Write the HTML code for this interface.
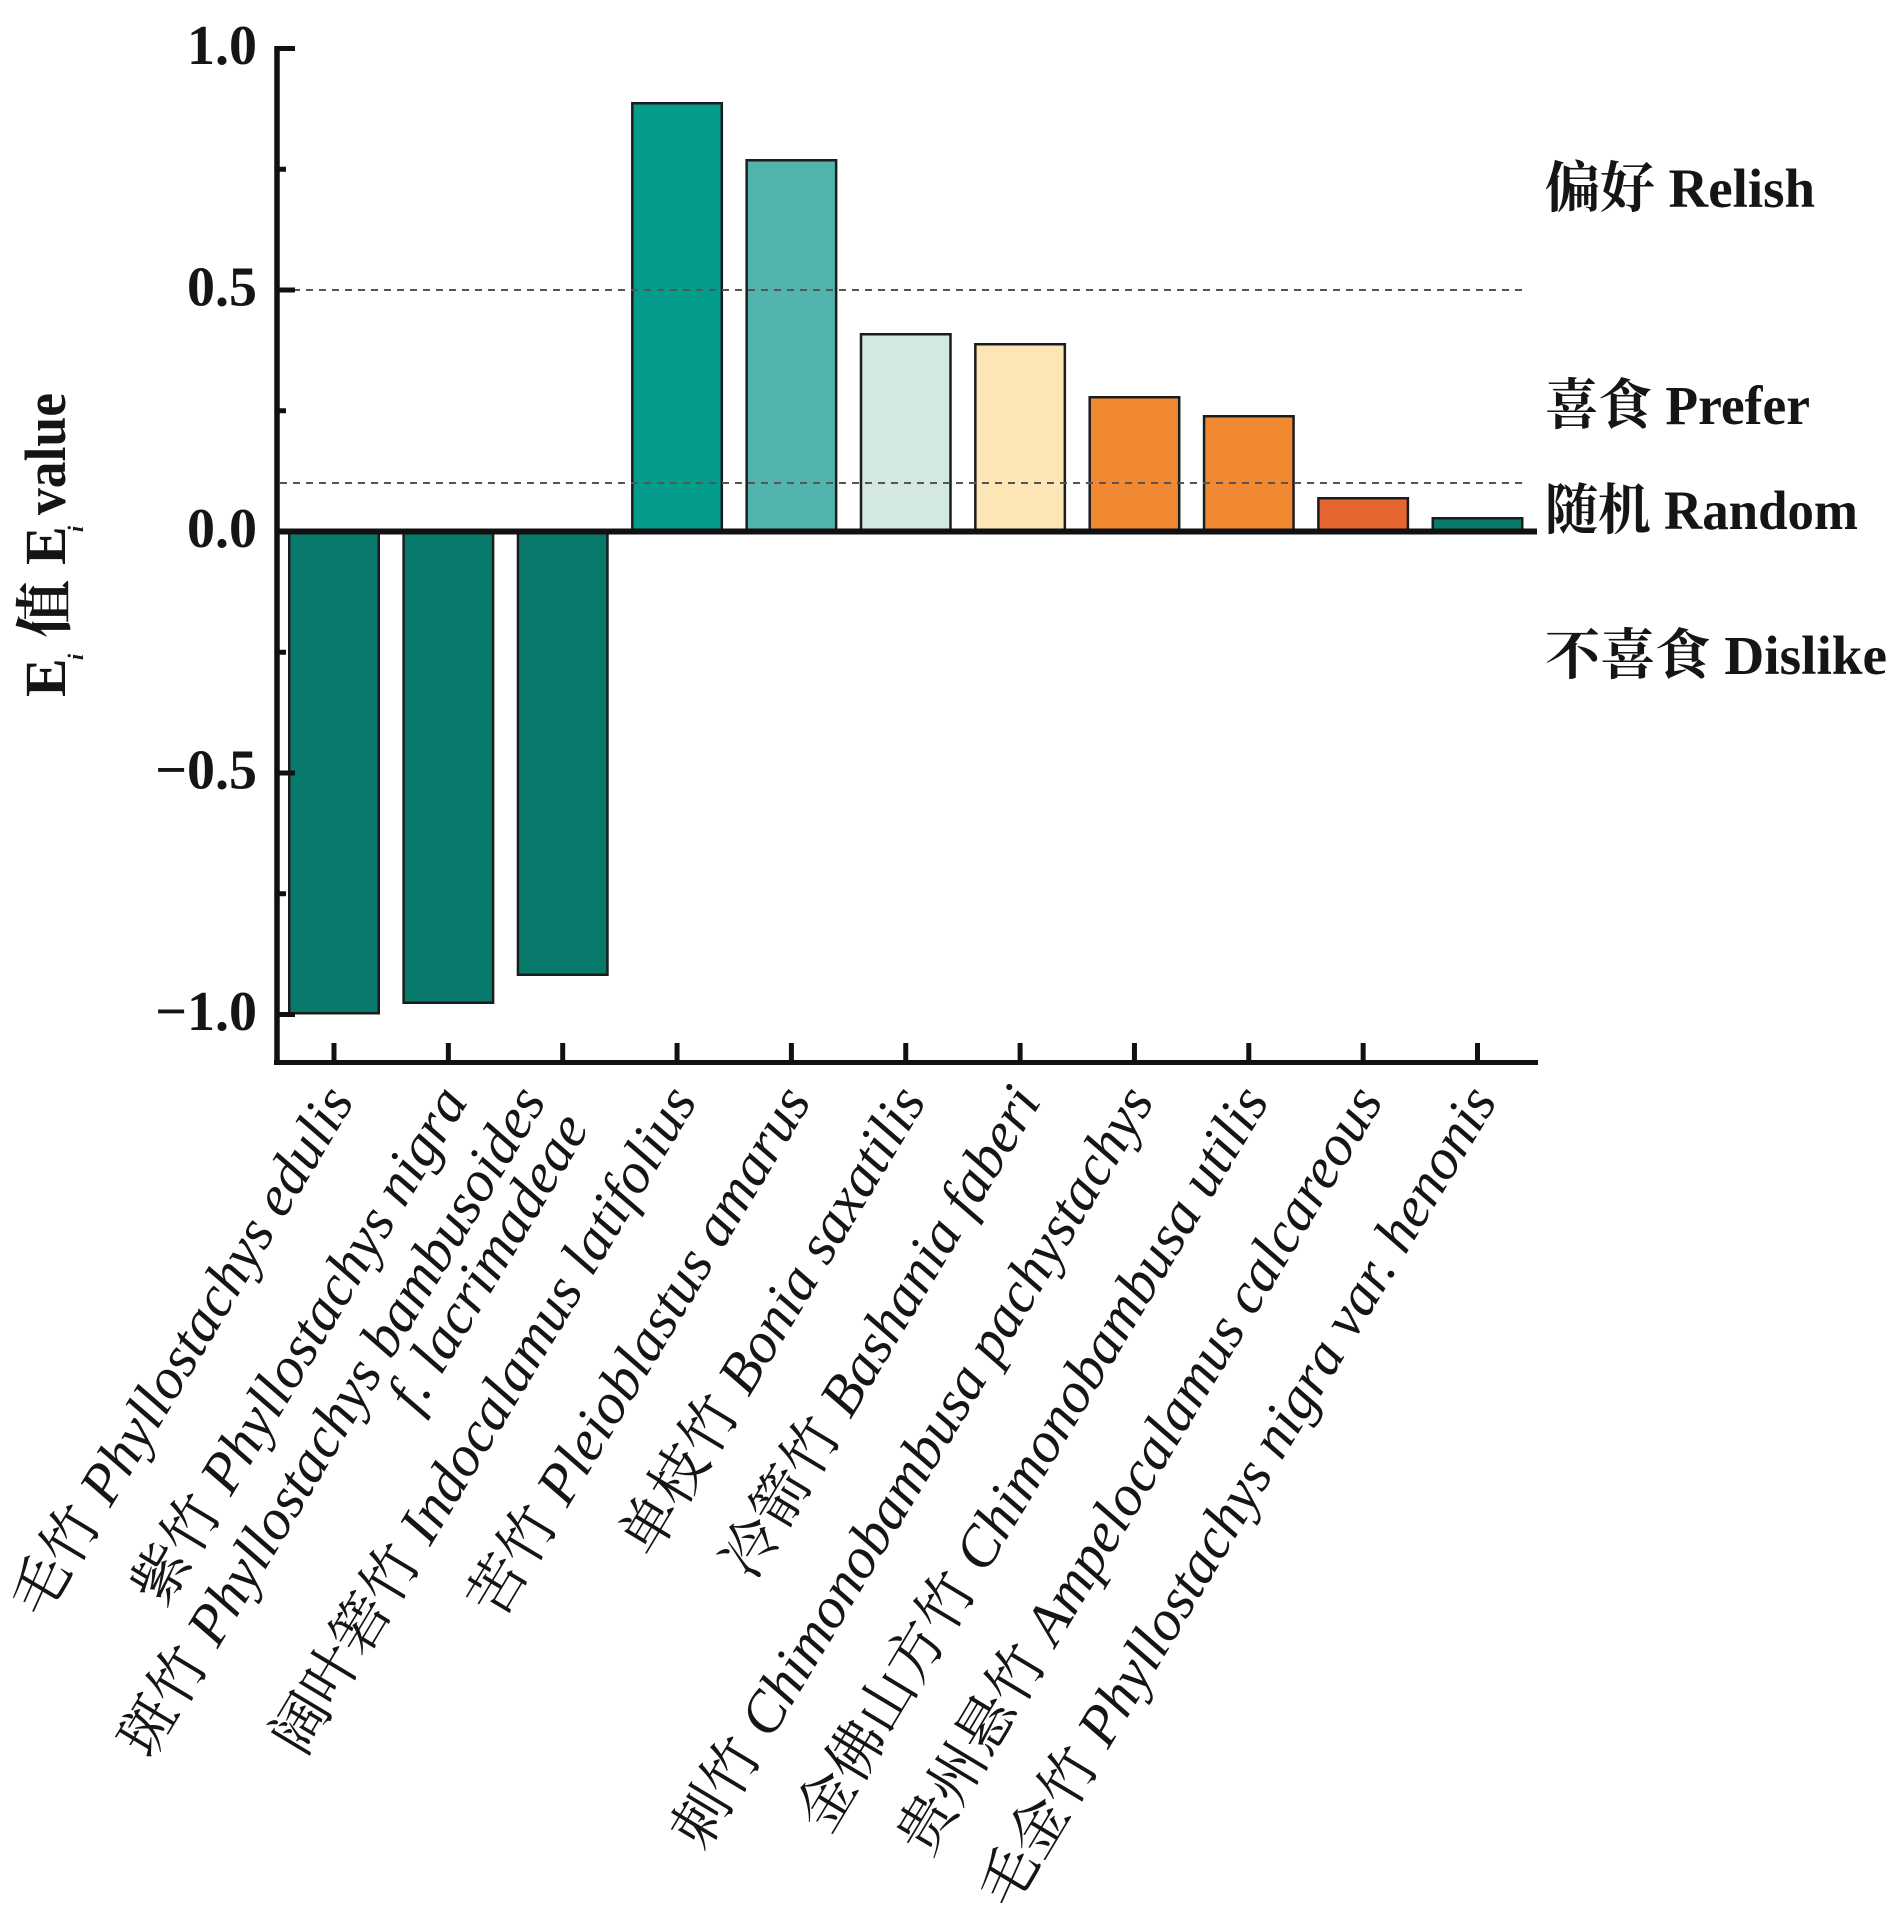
<!DOCTYPE html>
<html>
<head>
<meta charset="utf-8">
<style>
html,body{margin:0;padding:0;background:#fff;}
svg{display:block;}
.tick{font-family:"Liberation Serif","Noto Serif CJK SC",serif;font-weight:bold;font-size:56px;fill:#151515;}
.cat{font-family:"Liberation Serif","Noto Serif CJK SC",serif;font-weight:bold;font-size:55px;fill:#151515;}
.xl{font-family:"Liberation Serif","Noto Serif CJK SC",serif;font-size:58px;fill:#151515;}
.xl .it{font-style:italic;}
.yt{font-family:"Liberation Serif","Noto Serif CJK SC",serif;font-weight:bold;font-size:58px;fill:#151515;}
</style>
</head>
<body>
<svg width="1890" height="1928" viewBox="0 0 1890 1928" xmlns="http://www.w3.org/2000/svg">
<rect width="1890" height="1928" fill="#ffffff"/>

<!-- bars -->
<g stroke="#1c1c1c" stroke-width="2.5">
  <rect x="289.25" y="531.5" width="89.5" height="481.75" fill="#087a6c"/>
  <rect x="403.6" y="531.5" width="89.5" height="471.25" fill="#087a6c"/>
  <rect x="517.95" y="531.5" width="89.5" height="443.25" fill="#087a6c"/>
  <rect x="632.3" y="103.25" width="89.5" height="430" fill="#049c8b"/>
  <rect x="746.65" y="160.25" width="89.5" height="373" fill="#52b3ad"/>
  <rect x="861" y="334.25" width="89.5" height="199" fill="#d3e8de"/>
  <rect x="975.35" y="344.25" width="89.5" height="189" fill="#fde6b5"/>
  <rect x="1089.7" y="397.25" width="89.5" height="136" fill="#f08931"/>
  <rect x="1204.05" y="416.25" width="89.5" height="117" fill="#f08931"/>
  <rect x="1318.4" y="498.25" width="89.5" height="35" fill="#e56430"/>
  <rect x="1432.75" y="518.25" width="89.5" height="15" fill="#087a6c"/>
</g>

<!-- dashed reference lines -->
<line x1="280" y1="290" x2="1528" y2="290" stroke="#555" stroke-width="2" stroke-dasharray="7 6"/>
<line x1="280" y1="483" x2="1528" y2="483" stroke="#555" stroke-width="2" stroke-dasharray="7 6"/>

<!-- zero line and axes -->
<line x1="277" y1="531.5" x2="1537" y2="531.5" stroke="#111" stroke-width="6"/>
<line x1="277" y1="46" x2="277" y2="1065" stroke="#111" stroke-width="5.5"/>
<line x1="274" y1="1062.5" x2="1538" y2="1062.5" stroke="#111" stroke-width="5"/>

<!-- y ticks -->
<g stroke="#111" stroke-width="5">
  <line x1="277" y1="48.5" x2="295" y2="48.5"/>
  <line x1="277" y1="290" x2="295" y2="290"/>
  <line x1="277" y1="773" x2="295" y2="773"/>
  <line x1="277" y1="1014.5" x2="295" y2="1014.5"/>
  <line x1="277" y1="169.25" x2="286" y2="169.25"/>
  <line x1="277" y1="410.75" x2="286" y2="410.75"/>
  <line x1="277" y1="652.25" x2="286" y2="652.25"/>
  <line x1="277" y1="893.75" x2="286" y2="893.75"/>
</g>

<!-- x ticks -->
<g stroke="#111" stroke-width="5">
  <line x1="334" y1="1043" x2="334" y2="1062"/>
  <line x1="448.35" y1="1043" x2="448.35" y2="1062"/>
  <line x1="562.7" y1="1043" x2="562.7" y2="1062"/>
  <line x1="677.05" y1="1043" x2="677.05" y2="1062"/>
  <line x1="791.4" y1="1043" x2="791.4" y2="1062"/>
  <line x1="905.75" y1="1043" x2="905.75" y2="1062"/>
  <line x1="1020.1" y1="1043" x2="1020.1" y2="1062"/>
  <line x1="1134.45" y1="1043" x2="1134.45" y2="1062"/>
  <line x1="1248.8" y1="1043" x2="1248.8" y2="1062"/>
  <line x1="1363.15" y1="1043" x2="1363.15" y2="1062"/>
  <line x1="1477.5" y1="1043" x2="1477.5" y2="1062"/>
</g>

<!-- y tick labels -->
<g class="tick" text-anchor="end">
  <text x="257" y="64">1.0</text>
  <text x="257" y="305.5">0.5</text>
  <text x="257" y="547">0.0</text>
  <text x="257" y="788.5">−0.5</text>
  <text x="257" y="1030">−1.0</text>
</g>

<!-- y axis title -->
<g class="yt">
  <text transform="translate(65,697) rotate(-90)" x="0" y="0">E</text>
  <text transform="translate(65,697) rotate(-90)" x="37" y="18" style="font-size:22px;font-style:italic;">i</text>
  <text transform="translate(65,697) rotate(-90)" x="59" y="0">值</text>
  <text transform="translate(65,697) rotate(-90)" x="132" y="0">E</text>
  <text transform="translate(65,697) rotate(-90)" x="165" y="18" style="font-size:22px;font-style:italic;">i</text>
  <text transform="translate(65,697) rotate(-90)" x="182" y="0" textLength="122" lengthAdjust="spacingAndGlyphs">value</text>
</g>

<!-- category labels on right -->
<g class="cat">
  <text x="1545" y="207" textLength="270" lengthAdjust="spacingAndGlyphs">偏好 Relish</text>
  <text x="1545" y="424" textLength="265" lengthAdjust="spacingAndGlyphs">喜食 Prefer</text>
  <text x="1545" y="529" textLength="313" lengthAdjust="spacingAndGlyphs">随机 Random</text>
  <text x="1545" y="674" textLength="342" lengthAdjust="spacingAndGlyphs">不喜食 Dislike</text>
</g>

<!-- x labels -->
<g class="xl" text-anchor="end">
  <text transform="translate(355,1101) rotate(-59)">毛竹 <tspan class="it">Phyllostachys edulis</tspan></text>
  <text transform="translate(469,1101) rotate(-59)">紫竹 <tspan class="it">Phyllostachys nigra</tspan></text>
  <text transform="translate(547,1101) rotate(-59)">斑竹 <tspan class="it">Phyllostachys bambusoides</tspan></text>
  <text transform="translate(590,1128) rotate(-59)"><tspan class="it">f. lacrimadeae</tspan></text>
  <text transform="translate(698,1101) rotate(-59)">阔叶箬竹 <tspan class="it">Indocalamus latifolius</tspan></text>
  <text transform="translate(812,1101) rotate(-59)">苦竹 <tspan class="it">Pleioblastus amarus</tspan></text>
  <text transform="translate(927,1101) rotate(-59)">单枝竹 <tspan class="it">Bonia saxatilis</tspan></text>
  <text transform="translate(1042,1101) rotate(-59)">冷箭竹 <tspan class="it">Bashania faberi</tspan></text>
  <text transform="translate(1155,1101) rotate(-59)">刺竹 <tspan class="it">Chimonobambusa pachystachys</tspan></text>
  <text transform="translate(1270,1101) rotate(-59)">金佛山方竹 <tspan class="it">Chimonobambusa utilis</tspan></text>
  <text transform="translate(1384,1101) rotate(-59)">贵州悬竹 <tspan class="it">Ampelocalamus calcareous</tspan></text>
  <text transform="translate(1498,1101) rotate(-59)">毛金竹 <tspan class="it">Phyllostachys nigra var. henonis</tspan></text>
</g>
</svg>
</body>
</html>
